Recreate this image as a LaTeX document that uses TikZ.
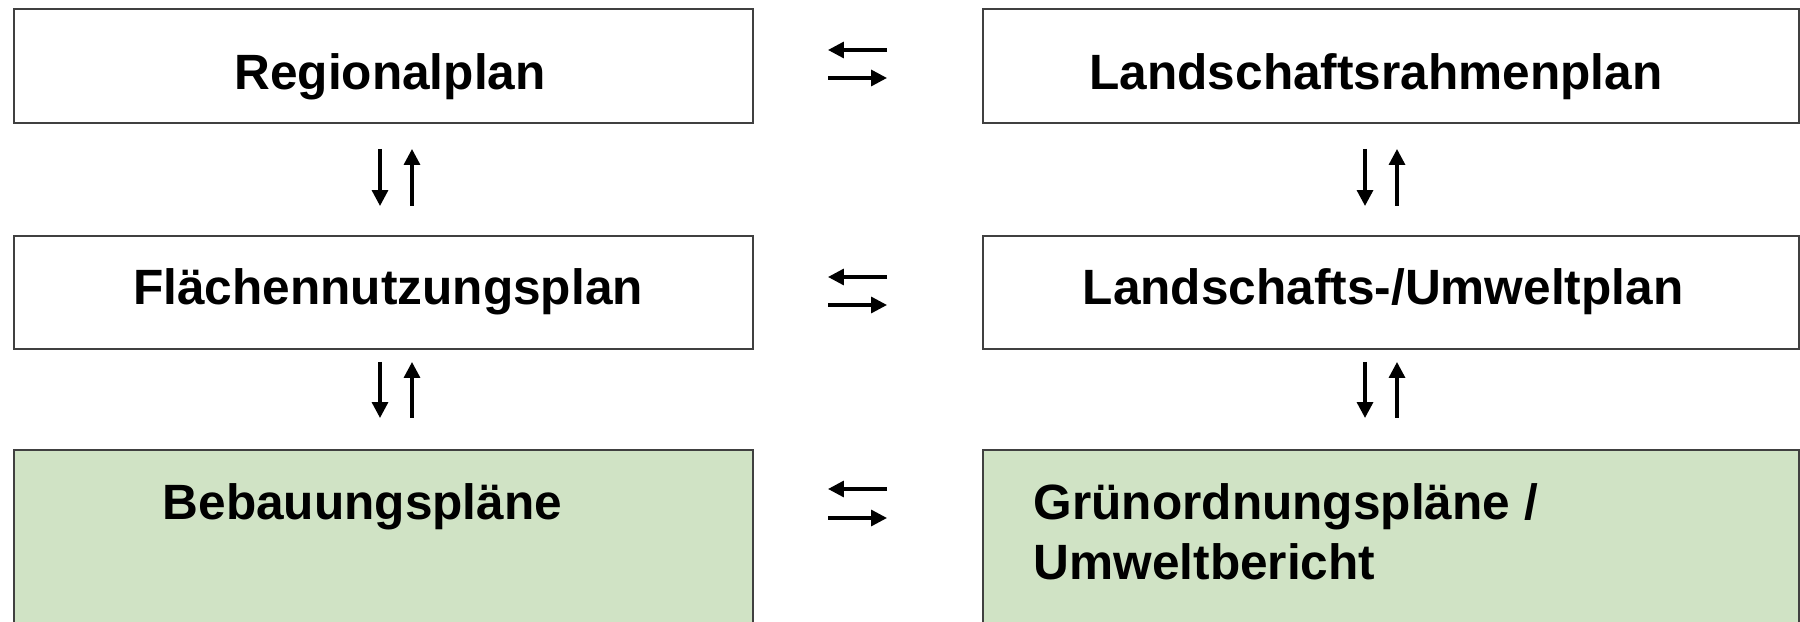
\documentclass[tikz,border=0pt]{standalone}
\usepackage{fontspec}
\setmainfont{Liberation Sans}
\usetikzlibrary{arrows.meta,calc}
\definecolor{boxgreen}{HTML}{D0E3C5}
\definecolor{boxline}{HTML}{404040}
\begin{document}
\begin{tikzpicture}[x=0.01cm,y=-0.01cm,
  box/.style={draw=boxline,line width=0.55pt,rectangle,inner sep=0pt,anchor=north west},
  plain/.style={box,fill=white},
  green/.style={box,fill=boxgreen},
  lbl/.style={font=\fontsize{14.1pt}{17pt}\selectfont\bfseries,inner sep=0pt},
  arr/.style={line width=0.95pt,-{Triangle[length=4.5pt,width=4.5pt]}}]
\useasboundingbox[fill=white] (0,0) rectangle (1800,622);
% boxes
\node[plain,minimum width=7.39cm,minimum height=1.14cm] (rp) at (13,8) {};
\node[plain,minimum width=8.16cm,minimum height=1.14cm] (lrp) at (982,8) {};
\node[plain,minimum width=7.39cm,minimum height=1.13cm] (fnp) at (13,235) {};
\node[plain,minimum width=8.16cm,minimum height=1.13cm] (lup) at (982,235) {};
\node[green,minimum width=7.39cm,minimum height=1.9cm] (bp) at (13,449) {};
\node[green,minimum width=8.16cm,minimum height=1.9cm] (gop) at (982,449) {};
% labels
\node[lbl,anchor=base] (trp) at (390,90) {Regionalplan};
\node[lbl,anchor=base] (tlrp) at (1376,90) {Landschaftsrahmenplan};
\node[lbl,anchor=base] (tfnp) at (388,305) {Flächennutzungsplan};
\node[lbl,anchor=base] (tlup) at (1383,305) {Landschafts-/Umweltplan};
\node[lbl,anchor=base west] (tbp) at (162,520) {Bebauungspläne};
\node[lbl,anchor=base west] (tgop1) at (1033,520) {Grünordnungspläne /};
\node[lbl,anchor=base west] (tgop2) at (1033,580) {Umweltbericht};
% vertical arrow coordinates
\coordinate (v1a) at (380,149); \coordinate (v1b) at (380,206);
\coordinate (v1c) at (412,206); \coordinate (v1d) at (412,149);
\coordinate (v2a) at (1365,149); \coordinate (v2b) at (1365,206);
\coordinate (v2c) at (1397,206); \coordinate (v2d) at (1397,149);
\coordinate (v3a) at (380,362); \coordinate (v3b) at (380,418);
\coordinate (v3c) at (412,418); \coordinate (v3d) at (412,362);
\coordinate (v4a) at (1365,362); \coordinate (v4b) at (1365,418);
\coordinate (v4c) at (1397,418); \coordinate (v4d) at (1397,362);
\draw[arr] (v1a) -- (v1b);
\draw[arr] (v1c) -- (v1d);
\draw[arr] (v2a) -- (v2b);
\draw[arr] (v2c) -- (v2d);
\draw[arr] (v3a) -- (v3b);
\draw[arr] (v3c) -- (v3d);
\draw[arr] (v4a) -- (v4b);
\draw[arr] (v4c) -- (v4d);
% horizontal arrow coordinates
\foreach \n/\ya/\yb in {1/50/78, 2/277/305, 3/489/518}{
  \coordinate (h\n a) at (887,\ya); \coordinate (h\n b) at (828,\ya);
  \coordinate (h\n c) at (828,\yb); \coordinate (h\n d) at (887,\yb);
  \draw[arr] (h\n a) -- (h\n b);
  \draw[arr] (h\n c) -- (h\n d);
}
\end{tikzpicture}
\end{document}
